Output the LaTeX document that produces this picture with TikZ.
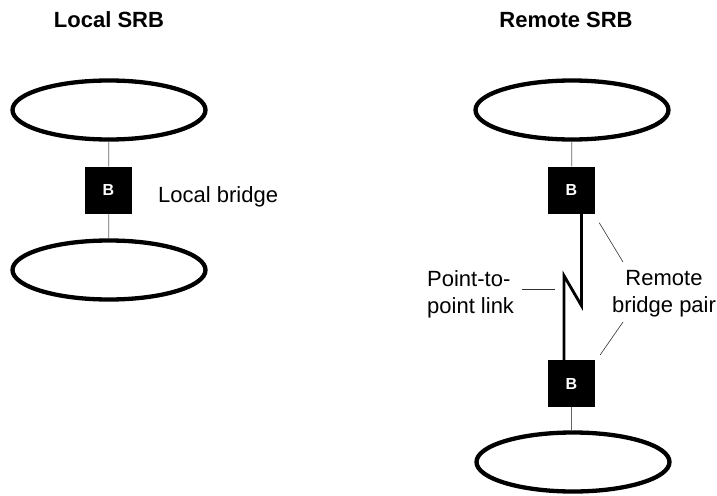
\documentclass[tikz,border=0pt]{standalone}
\usepackage{fontspec}
\setmainfont{Liberation Sans}
\usetikzlibrary{shapes.geometric}
\tikzstyle{lan} = [ellipse, draw=black, line width=4.3pt,
minimum width=193pt, minimum height=59pt, inner sep=0pt]
\tikzstyle{bridge} = [rectangle, fill=black, text=white,
minimum size=47pt, inner sep=0pt,
font=\fontsize{16}{16}\selectfont\bfseries]

\begin{document}
\begin{tikzpicture}[x=1pt, y=-1pt, font=\fontsize{22}{27}\selectfont]
                    % Define styles for labels and lines
                    \tikzstyle{title} = [font=\fontsize{22}{27}\selectfont\bfseries]
                    \tikzstyle{label} = [inner sep=0pt]
                    \tikzstyle{stub} = [draw, black!60, line width=0.8pt]
                    \tikzstyle{link} = [draw, line width=2.8pt, line join=miter]
                    \tikzstyle{leader} = [draw, black!80, line width=0.6pt]
                    \useasboundingbox (0,0) rectangle (717,495);

                    % Place nodes (local side)
                    \node [title] (local_title) at (109,20) {Local SRB};
                    \node [lan] (lan_a) at (109,110) {};
                    \node [bridge] (local_b) at (108.5,190) {B};
                    \node [lan] (lan_b) at (109,270) {};
                    \node [label, anchor=west] (local_lbl) at (158,197) {Local bridge};

                    % Place nodes (remote side)
                    \node [title] (remote_title) at (566,20) {Remote SRB};
                    \node [lan] (lan_c) at (572,110) {};
                    \node [bridge] (remote_b1) at (571.5,190) {B};
                    \node [bridge] (remote_b2) at (571.5,383.5) {B};
                    \node [lan] (lan_d) at (573,462) {};
                    \node [label, anchor=west, align=left] (ptp_lbl) at (427,294) {Point-to-\\point link};
                    \node [label, align=center] (pair_lbl) at (664,294) {Remote\\bridge pair};
                    \coordinate (ptp_end) at (555,289);
                    \coordinate (pair_up) at (623,262);
                    \coordinate (pair_dn) at (623,322);

                    % Draw edges
                    \path [stub] (lan_a) -- (local_b);
                    \path [stub] (local_b) -- (lan_b);
                    \path [stub] (lan_c) -- (remote_b1);
                    \path [stub] (remote_b2.south) -- (lan_d.north -| remote_b2.south);
                    \path [link] ([xshift=10pt]remote_b1.south) -- ++(0,92) -- ++(-17.5,-30)
                        -- ([xshift=-7.5pt]remote_b2.north);
                    \path [leader] ([xshift=8pt]ptp_lbl.east |- ptp_end) -- (ptp_end);
                    \path [leader] (pair_up) -- ([shift={(4,9)}]remote_b1.south east);
                    \path [leader] (pair_dn) -- ([shift={(5,-5)}]remote_b2.north east);
                \end{tikzpicture}
\end{document}
